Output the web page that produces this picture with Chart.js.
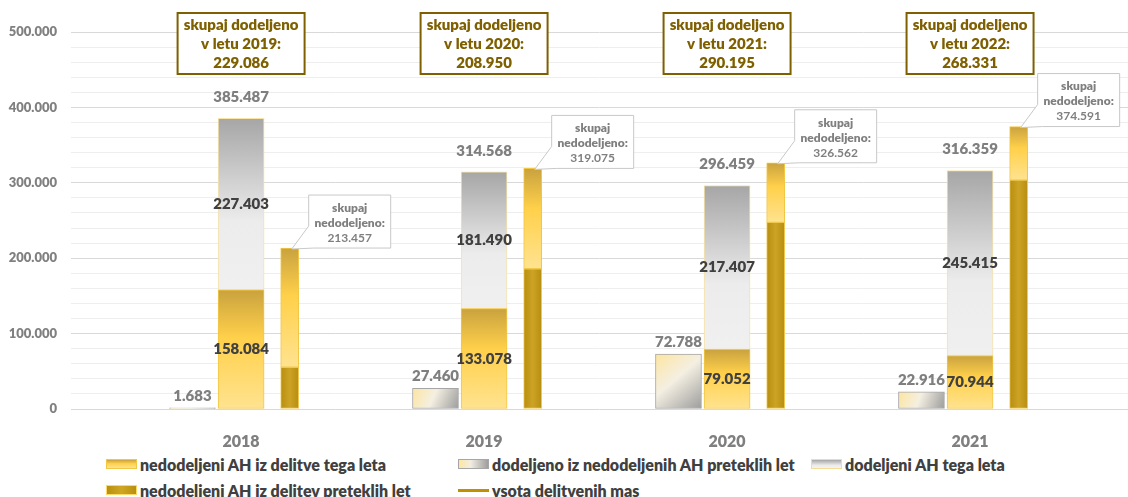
<!DOCTYPE html>
<html lang="sl">
<head>
<meta charset="UTF-8">
<title>Delitev AH 2018–2021</title>
<script src="https://cdn.jsdelivr.net/npm/chart.js"></script>
<style>
    body { margin: 0; background: #fff; }
    .wrap { position: relative; width: 1128px; height: 497px; overflow: hidden; }
    .chart-box { position: absolute; left: 0; top: 0; width: 1128px; height: 450px; }
    .legend-item { position: absolute; display: flex; align-items: center; height: 18px; font-family: Lato, sans-serif; font-weight: 800; font-size: 16px; color: #404040; white-space: nowrap; }
    .swatch { display: inline-block; width: 31px; height: 10px; margin-right: 3px; box-sizing: border-box; }
    .sw-yellow { background: linear-gradient(to bottom, #c9a23f, #ffd04a 45%, #ffe390); border: 1px solid #f2c744; }
    .sw-prev { background: linear-gradient(to right, #fde7a0, #f1ede2 40%, #9e9e9e); border: 1px solid #a6a6a6; }
    .sw-gray { background: linear-gradient(to bottom, #a6a6a6, #ececec 65%, #f2f2f2); border: 1px solid #f5dd95; }
    .sw-dark { background: linear-gradient(to right, #b8900f, #cfa524 50%, #b8900f); border: 1px solid #ffd966; }
    .sw-line { height: 3px; background: #bf9000; }
</style>
</head>
<body>
<div class="wrap">
    <div class="chart-box"><canvas id="ah-chart"></canvas></div>
    <div class="legend-item" style="left:106px;top:455px"><span class="swatch sw-yellow"></span>nedodeljeni AH iz delitve tega leta</div>
    <div class="legend-item" style="left:458px;top:455px"><span class="swatch sw-prev"></span>dodeljeno iz nedodeljenih AH preteklih let</div>
    <div class="legend-item" style="left:811px;top:455px"><span class="swatch sw-gray"></span>dodeljeni AH tega leta</div>
    <div class="legend-item" style="left:106px;top:481px"><span class="swatch sw-dark"></span>nedodeljeni AH iz delitev preteklih let</div>
    <div class="legend-item" style="left:458px;top:481px"><span class="swatch sw-line"></span>vsota delitvenih mas</div>
</div>
<script>
// 类别与数据
const years = ['2018', '2019', '2020', '2021'];
const allocationYears = ['2019', '2020', '2021', '2022'];
const allocatedFromPrev = [1683, 27460, 72788, 22916];
const unallocatedThisYear = [158084, 133078, 79052, 70944];
const allocatedThisYear = [227403, 181490, 217407, 245415];
const unallocatedPrev = [55373, 185997, 247510, 303647];
const totalThisYear = [385487, 314568, 296459, 316359];
const totalUnallocated = [213457, 319075, 326562, 374591];
const totalAllocatedInYear = [229086, 208950, 290195, 268331];
const yMax = 500000;
const yMajorStep = 100000;
const yMinorStep = 20000;

// 左右两根柱子相对类别中心的偏移
const SIDE_OFFSET = 0.2;

// 千位用点分隔
function fmt(v) {
    return String(v).replace(/\B(?=(\d{3})+(?!\d))/g, '.');
}

// 竖向渐变
function vGradient(chart, top, bottom, stops) {
    const g = chart.ctx.createLinearGradient(0, top, 0, bottom);
    stops.forEach(([o, c]) => g.addColorStop(o, c));
    return g;
}

const yellowStops = [[0, '#c9a23f'], [0.4, '#ffd04a'], [1, '#ffe390']];
const grayStops = [[0, '#a6a6a6'], [0.6, '#ececec'], [1, '#f0f0f0']];

// 每段柱子的渐变，按数值范围计算
function segmentFill(stops, getRange, fallback) {
    return function (context) {
        const chart = context.chart;
        const y = chart.scales.y;
        if (!chart.chartArea || !y || context.type !== 'data') return fallback;
        const [lo, hi] = getRange(context.dataIndex);
        return vGradient(chart, y.getPixelForValue(hi), y.getPixelForValue(lo), stops);
    };
}

function prevFill(context) {
    const chart = context.chart;
    const { x, y } = chart.scales;
    if (!chart.chartArea || !x || !y || context.type !== 'data') return '#d9d9d9';
    const i = context.dataIndex;
    const cx = x.getPixelForValue(i - SIDE_OFFSET);
    const top = y.getPixelForValue(allocatedFromPrev[i]);
    const bottom = y.getPixelForValue(0);
    const g = chart.ctx.createLinearGradient(cx - 23, top, cx + 23, bottom);
    g.addColorStop(0, '#fde5a0');
    g.addColorStop(0.45, '#f4efe2');
    g.addColorStop(1, '#9c9c9c');
    return g;
}

function darkFill(context) {
    const chart = context.chart;
    const x = chart.scales.x;
    if (!chart.chartArea || !x || context.type !== 'data') return '#bf9000';
    const cx = x.getPixelForValue(context.dataIndex + SIDE_OFFSET);
    const g = chart.ctx.createLinearGradient(cx - 9, 0, cx + 9, 0);
    g.addColorStop(0, '#b78e10');
    g.addColorStop(0.5, '#cda326');
    g.addColorStop(1, '#b78e10');
    return g;
}

// 数值标签、顶部文本框和标注框
const labelPlugin = {
    id: 'ahLabels',
    afterDatasetsDraw(chart) {
        const { ctx, scales: { x, y } } = chart;
        ctx.save();
        ctx.textAlign = 'center';
        ctx.textBaseline = 'middle';

        years.forEach((year, i) => {
            const cx = x.getPixelForValue(i);

            // 左侧小柱
            ctx.font = '800 15px Lato';
            ctx.fillStyle = '#7f7f7f';
            ctx.fillText(fmt(allocatedFromPrev[i]), x.getPixelForValue(i - SIDE_OFFSET), y.getPixelForValue(allocatedFromPrev[i]) - 12);

            // 中间堆叠柱
            ctx.fillStyle = '#404040';
            ctx.fillText(fmt(unallocatedThisYear[i]), cx, y.getPixelForValue(unallocatedThisYear[i] / 2));
            ctx.fillText(fmt(allocatedThisYear[i]), cx, y.getPixelForValue(unallocatedThisYear[i] + allocatedThisYear[i] / 2));
            ctx.fillStyle = '#7f7f7f';
            ctx.fillText(fmt(totalThisYear[i]), cx, y.getPixelForValue(totalThisYear[i]) - 21);

            // 顶部“skupaj dodeljeno”文本框
            const bw = 127, bh = 61, bt = 13;
            ctx.fillStyle = '#fff';
            ctx.fillRect(cx - bw / 2, bt, bw, bh);
            ctx.strokeStyle = '#7f6000';
            ctx.lineWidth = 2;
            ctx.strokeRect(cx - bw / 2, bt, bw, bh);
            ctx.fillStyle = '#7f6000';
            ctx.font = '800 15px Lato';
            ctx.fillText('skupaj dodeljeno', cx, bt + 12);
            ctx.fillText(`v letu ${allocationYears[i]}:`, cx, bt + 31);
            ctx.fillText(fmt(totalAllocatedInYear[i]), cx, bt + 50);

            // 右侧柱的标注框
            const rx = x.getPixelForValue(i + SIDE_OFFSET);
            const top = y.getPixelForValue(totalUnallocated[i]);
            const left = rx + 19, w = 82, h = 53, bottom = top, boxTop = bottom - h;
            ctx.beginPath();
            ctx.moveTo(left, boxTop);
            ctx.lineTo(left + w, boxTop);
            ctx.lineTo(left + w, bottom);
            ctx.lineTo(left + 5, bottom);
            ctx.lineTo(rx + 2, top + 1);
            ctx.lineTo(left, bottom - 22);
            ctx.closePath();
            ctx.fillStyle = '#fff';
            ctx.fill();
            ctx.strokeStyle = '#c8c8c8';
            ctx.lineWidth = 1;
            ctx.stroke();
            ctx.fillStyle = '#7f7f7f';
            ctx.font = '800 12px Lato';
            ctx.fillText('skupaj', left + w / 2, boxTop + 13);
            ctx.fillText('nedodeljeno:', left + w / 2, boxTop + 28);
            ctx.font = 'bold 12px Lato';
            ctx.fillText(fmt(totalUnallocated[i]), left + w / 2, boxTop + 43);
        });
        ctx.restore();
    }
};

document.addEventListener('DOMContentLoaded', function () {
    initChart();
});

function initChart() {
    const ctx = document.getElementById('ah-chart').getContext('2d');
    Chart.defaults.font.family = 'Lato, sans-serif';

    const at = (vals, shift) => vals.map((v, i) => ({ x: i + shift, y: v }));

    new Chart(ctx, {
        type: 'bar',
        data: {
            datasets: [
                {
                    label: 'dodeljeno iz nedodeljenih AH preteklih let',
                    data: at(allocatedFromPrev, -SIDE_OFFSET),
                    stack: 'left',
                    barThickness: 46,
                    backgroundColor: prevFill,
                    borderColor: '#a6a6a6',
                    borderWidth: 1
                },
                {
                    label: 'nedodeljeni AH iz delitve tega leta',
                    data: at(unallocatedThisYear, 0),
                    stack: 'mid',
                    barThickness: 46,
                    backgroundColor: segmentFill(yellowStops, i => [0, unallocatedThisYear[i]], '#ffd04a'),
                    borderColor: '#f2c744',
                    borderWidth: 1
                },
                {
                    label: 'dodeljeni AH tega leta',
                    data: at(allocatedThisYear, 0),
                    stack: 'mid',
                    barThickness: 46,
                    backgroundColor: segmentFill(grayStops, i => [unallocatedThisYear[i], unallocatedThisYear[i] + allocatedThisYear[i]], '#d9d9d9'),
                    borderColor: '#f7e3a6',
                    borderWidth: 1
                },
                {
                    label: 'nedodeljeni AH iz delitev preteklih let',
                    data: at(unallocatedPrev, SIDE_OFFSET),
                    stack: 'right',
                    barThickness: 18,
                    backgroundColor: darkFill,
                    borderColor: '#f0c850',
                    borderWidth: 1
                },
                {
                    label: 'nedodeljeni AH iz delitve tega leta (preteklo)',
                    data: at(unallocatedThisYear, SIDE_OFFSET),
                    stack: 'right',
                    barThickness: 18,
                    backgroundColor: segmentFill(yellowStops, i => [unallocatedPrev[i], unallocatedPrev[i] + unallocatedThisYear[i]], '#ffd04a'),
                    borderColor: '#f2c744',
                    borderWidth: 1
                }
            ].map(ds => Object.assign(ds, { grouped: false, borderSkipped: false }))
        },
        options: {
            responsive: true,
            maintainAspectRatio: false,
            animation: false,
            layout: {
                padding: { top: 32, right: 0, bottom: 1, left: 0 }
            },
            plugins: {
                legend: { display: false },
                tooltip: { enabled: false }
            },
            scales: {
                x: {
                    type: 'linear',
                    min: -0.7,
                    max: 3.65,
                    offset: false,
                    grid: { display: false },
                    border: { display: false },
                    afterBuildTicks: function (scale) {
                        scale.ticks = years.map((_, i) => ({ value: i }));
                    },
                    afterFit: function (scale) {
                        scale.height = 40;
                    },
                    ticks: {
                        padding: 15,
                        autoSkip: false,
                        maxRotation: 0,
                        color: '#7f7f7f',
                        font: { size: 16, weight: 800 },
                        callback: function (value) {
                            return years[value] || '';
                        }
                    }
                },
                y: {
                    stacked: true,
                    min: 0,
                    max: yMax,
                    border: { display: false },
                    afterFit: function (scale) {
                        scale.width = 71;
                    },
                    grid: {
                        drawTicks: false,
                        color: function (c) {
                            return c.tick && c.tick.value % yMajorStep === 0 ? '#d9d9d9' : '#eeeeee';
                        }
                    },
                    ticks: {
                        stepSize: yMinorStep,
                        autoSkip: false,
                        padding: 14,
                        color: '#808080',
                        font: { size: 13, weight: 800 },
                        callback: function (value) {
                            return value % yMajorStep === 0 ? fmt(value) : '';
                        }
                    }
                }
            }
        },
        plugins: [labelPlugin]
    });
}
</script>
</body>
</html>
